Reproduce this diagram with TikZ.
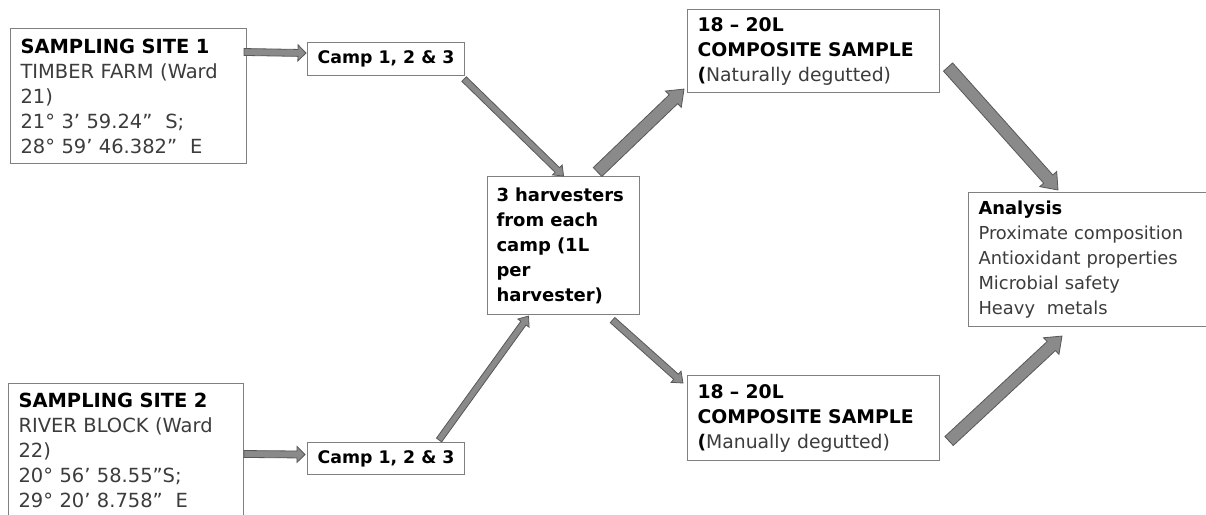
\documentclass[tikz,border=0pt]{standalone}
\usepackage{fontspec}
\setmainfont{DejaVu Sans}
\usetikzlibrary{calc}

\definecolor{boxline}{RGB}{128,128,128}
\definecolor{txtgray}{RGB}{60,60,60}
\definecolor{arrowfill}{RGB}{138,138,138}
\definecolor{arrowline}{RGB}{88,88,88}

% Block arrow from #1 to #2: shaft half width #3, head half width #4, head length #5
\newcommand{\blockarrow}[5]{%
  \coordinate (ahbase) at ($(#2)!#5!(#1)$);
  \path[arrowshape] ($(#1)!#3!90:(#2)$) -- ($(ahbase)!#3!-90:(#1)$)
    -- ($(ahbase)!#4!-90:(#1)$) -- (#2) -- ($(ahbase)!#4!90:(#1)$)
    -- ($(ahbase)!#3!90:(#1)$) -- ($(#1)!#3!-90:(#2)$) -- cycle;
}

\tikzset{
  box/.style={draw=boxline, line width=0.8pt, fill=white, anchor=north west,
    inner xsep=7.5pt, inner ysep=0pt, align=left, text=black,
    font=\fontsize{14.1}{18.75}\selectfont},
  campbox/.style={draw=boxline, line width=0.8pt, fill=white, anchor=north west,
    inner sep=0pt, align=center, text=black,
    font=\fontsize{13}{15}\selectfont\bfseries},
  arrowshape/.style={draw=arrowline, fill=arrowfill, line width=0.6pt, line join=miter}
}

\begin{document}
\begin{tikzpicture}[x=0.75pt, y=-0.75pt]
  \useasboundingbox[fill=white] (0,0) rectangle (1206,514);

  % sampling sites
  \node[box, font=\fontsize{14.6}{18.75}\selectfont, minimum width=177pt, minimum height=101.25pt,
    text width=162pt] (site1) at (10,28)
    {\textbf{SAMPLING SITE 1}\\ \color{txtgray}TIMBER FARM (Ward\\21)\\21° 3’ 59.24”\ \ S;\\28° 59’ 46.382”\ \ E};
  \node[box, font=\fontsize{14.6}{18.75}\selectfont, minimum width=176.25pt, minimum height=100pt,
    text width=161.25pt] (site2) at (8,383)
    {\textbf{SAMPLING SITE 2}\\ \color{txtgray}RIVER BLOCK (Ward\\22)\\20° 56’ 58.55”S;\\29° 20’ 8.758”\ \ E};

  % camps
  \node[campbox, minimum width=117.75pt, minimum height=24.75pt] (camp1) at (307,42) {Camp 1, 2 \& 3};
  \node[campbox, minimum width=117.75pt, minimum height=24pt] (camp2) at (307,442) {Camp 1, 2 \& 3};

  % harvesters
  \node[box, font=\fontsize{13.5}{18.75}\selectfont\bfseries, minimum width=114pt, minimum height=103.5pt,
    text width=100.5pt, inner xsep=6.75pt] (harv) at (487,176)
    {3 harvesters\\from each\\camp (1L\\per\\harvester)};

  % composite samples
  \node[box, minimum width=189pt, minimum height=62.25pt, text width=174pt] (compA) at (687,9)
    {\textbf{18 – 20L}\\\textbf{COMPOSITE SAMPLE}\\\textbf{(}\textcolor{txtgray}{Naturally degutted)}};
  \node[box, minimum width=189pt, minimum height=63.75pt, text width=174pt] (compB) at (687,375)
    {\textbf{18 – 20L}\\\textbf{COMPOSITE SAMPLE}\\\textbf{(}\textcolor{txtgray}{Manually degutted)}};

  % analysis
  \node[box, font=\fontsize{13.4}{18.75}\selectfont, minimum width=183.75pt, minimum height=100.5pt,
    text width=168.75pt] (ana) at (968,192)
    {\textbf{Analysis}\\ \color{txtgray}Proximate composition\\Antioxidant properties\\Microbial safety\\Heavy\ \ metals};

  % connector end points
  \coordinate (p1s) at ($(site1.north east)+(-3,24)$);
  \coordinate (p1e) at ($(camp1.west)+(-1,-6)$);
  \coordinate (p2s) at ($(site2.north east)+(0,71)$);
  \coordinate (p2e) at ($(camp2.west)+(-2,-4)$);
  \coordinate (p3s) at ($(camp1.south east)+(-1,3)$);
  \coordinate (p3e) at (harv.north);
  \coordinate (p4s) at ($(camp2.north east)+(-26,-2)$);
  \coordinate (p4e) at ($(harv.south)+(-35,1)$);
  \coordinate (p5s) at ($(harv.north)+(34,-4)$);
  \coordinate (p5e) at ($(compA.south west)+(-3,-4)$);
  \coordinate (p6s) at ($(harv.south)+(49,5)$);
  \coordinate (p6e) at ($(compB.north west)+(-4,8)$);
  \coordinate (p7s) at ($(compA.east)+(8,16)$);
  \coordinate (p7e) at ($(ana.north west)+(90,-2)$);
  \coordinate (p8s) at ($(compB.east)+(9,23)$);
  \coordinate (p8e) at ($(ana.south west)+(94,9)$);

  % block arrows
  \blockarrow{p1s}{p1e}{2.6pt}{6pt}{6pt}
  \blockarrow{p2s}{p2e}{2.6pt}{6pt}{6pt}
  \blockarrow{p3s}{p3e}{2.4pt}{5.2pt}{6.5pt}
  \blockarrow{p4s}{p4e}{2.4pt}{5.2pt}{6.5pt}
  \blockarrow{p5s}{p5e}{4.6pt}{8.5pt}{11pt}
  \blockarrow{p6s}{p6e}{2.6pt}{5.6pt}{7pt}
  \blockarrow{p7s}{p7e}{4.6pt}{8.5pt}{11pt}
  \blockarrow{p8s}{p8e}{4.6pt}{8.5pt}{11pt}
\end{tikzpicture}
\end{document}
